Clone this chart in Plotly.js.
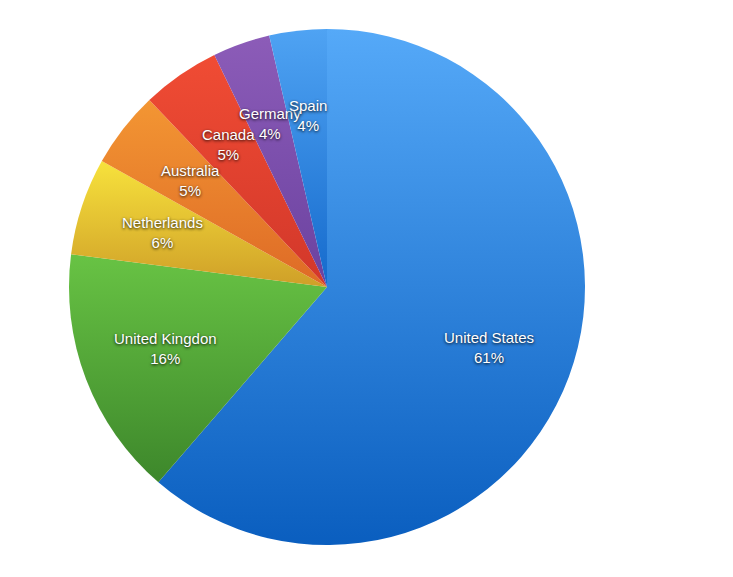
<!DOCTYPE html>
<html>
<head>
<meta charset="utf-8">
<script src="https://cdn.plot.ly/plotly-3.0.1.min.js"></script>
<style>
  html, body { margin: 0; padding: 0; background: #fff; }
  #chart { width: 733px; height: 577px; }
</style>
</head>
<body>
<div id="chart"></div>
<script>
var countries = ['United States', 'United Kingdon', 'Netherlands', 'Australia', 'Canada', 'Germany', 'Spain'];
var shares = [61.4, 15.7, 6.1, 4.8, 4.9, 3.6, 3.6];
var topColors = ['#55a9f8', '#68c344', '#f7e23c', '#f39633', '#f04c34', '#8c5cb8', '#4fa3f3'];
var bottomColors = ['#0a5ebf', '#3d872b', '#cf9f28', '#de6a26', '#d2372a', '#6b42a0', '#156acc'];

var W = 733, H = 577;
var dom = { x: [69 / W, 585 / W], y: [32 / H, 548 / H] };

// solid fallback colours, gradient is added after drawing
var midColors = ['#2f83db', '#52a538', '#e3c132', '#e98030', '#e2422f', '#7c4fac', '#2d86e0'];

var trace = {
    type: 'pie',
    labels: countries,
    values: shares,
    sort: false,
    direction: 'clockwise',
    rotation: 0,
    textinfo: 'none',
    hoverinfo: 'none',
    marker: { colors: midColors, line: { width: 0 } },
    domain: dom,
    showlegend: false
};

// label positions along each slice's middle angle
var total = shares.reduce(function (a, b) { return a + b; }, 0);
var cx = (dom.x[0] + dom.x[1]) / 2 * W;
var cy = (dom.y[0] + dom.y[1]) / 2 * H;
var r = Math.min((dom.x[1] - dom.x[0]) * W, (dom.y[1] - dom.y[0]) * H) / 2;
var annotations = [];
var acc = 0;
for (var i = 0; i < shares.length; i++) {
    var mid = (acc + shares[i] / 2) / total * 2 * Math.PI;
    acc += shares[i];
    annotations.push({
        xref: 'paper', yref: 'paper',
        xanchor: 'center', yanchor: 'middle',
        x: (cx + 0.67 * r * Math.sin(mid)) / W,
        y: (cy + 0.67 * r * Math.cos(mid)) / H,
        text: countries[i] + '<br>' + Math.round(shares[i] / total * 100) + '%',
        showarrow: false,
        font: { family: 'Liberation Sans, Arial, sans-serif', size: 15, color: '#ffffff',
                shadow: '0px 1px 3px rgba(0,0,0,0.95)' }
    });
}

var layout = {
    width: W,
    height: H,
    margin: { l: 0, r: 0, t: 0, b: 0 },
    paper_bgcolor: '#ffffff',
    annotations: annotations
};

Plotly.newPlot('chart', [trace], layout, { displayModeBar: false, staticPlot: true }).then(function (gd) {
    var ns = 'http://www.w3.org/2000/svg';
    var defs = gd.querySelector('.main-svg defs');
    var paths = gd.querySelectorAll('.slice path.surface');
    paths.forEach(function (p, k) {
        var g = document.createElementNS(ns, 'linearGradient');
        g.setAttribute('id', 'slicegrad' + k);
        g.setAttribute('x1', '0'); g.setAttribute('y1', '0');
        g.setAttribute('x2', '0'); g.setAttribute('y2', '1');
        [[0, topColors[k]], [1, bottomColors[k]]].forEach(function (s) {
            var stop = document.createElementNS(ns, 'stop');
            stop.setAttribute('offset', s[0]);
            stop.setAttribute('stop-color', s[1]);
            g.appendChild(stop);
        });
        defs.appendChild(g);
        p.style.fill = 'url(#slicegrad' + k + ')';
    });
});
</script>
</body>
</html>
